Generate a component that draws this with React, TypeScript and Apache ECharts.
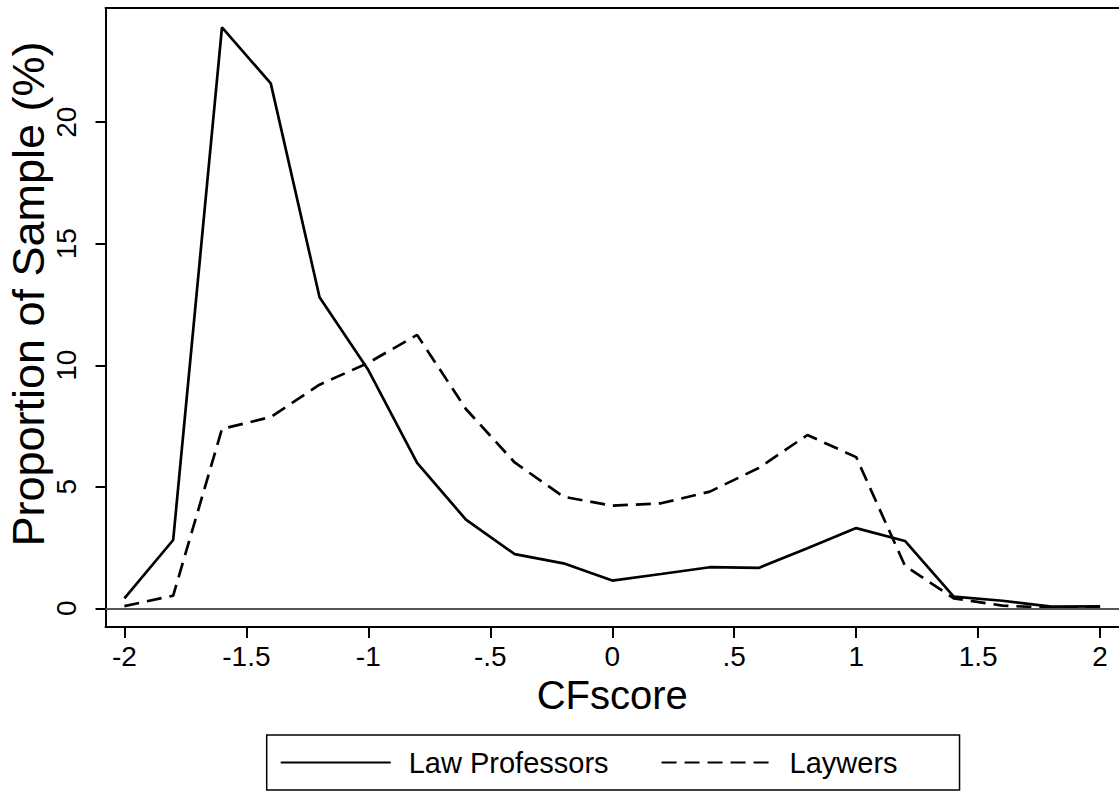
import React, { useEffect, useRef } from "react";
import * as echarts from "echarts";

const xValues = [-2, -1.8, -1.6, -1.4, -1.2, -1.0, -0.8, -0.6, -0.4, -0.2, 0, 0.2, 0.4, 0.6, 0.8, 1.0, 1.2, 1.4, 1.6, 1.8, 2.0];
const lawProfessors = [0.41, 2.81, 23.9, 21.6, 12.8, 9.8, 5.98, 3.65, 2.23, 1.85, 1.14, 1.41, 1.69, 1.66, 2.47, 3.3, 2.77, 0.48, 0.31, 0.07, 0.08];
const lawyers = [0.09, 0.52, 7.38, 7.87, 9.2, 10.1, 11.25, 8.2, 6.0, 4.59, 4.22, 4.32, 4.8, 5.77, 7.13, 6.22, 1.75, 0.41, 0.11, 0.02, 0.03];
const xTicks = [-2, -1.5, -1, -0.5, 0, 0.5, 1, 1.5, 2];
const yTicks = [0, 5, 10, 15, 20];
const seriesNames = ["Law Professors", "Laywers"];
const xTitle = "CFscore";
const yTitle = "Proportion of Sample (%)";

const FONT = '"Liberation Sans", Arial, Helvetica, sans-serif';

const fmtX = (v: number) => {
  if (v === 0) return "0";
  return String(v).replace(/^(-?)0\./, "$1.");
};

export default function App() {
  const ref = useRef<HTMLDivElement>(null);
  useEffect(() => {
    if (!ref.current) return;
    const chart = echarts.init(ref.current, null, { renderer: "svg" });
    const xMin = -2.0775, xMax = 2.0775;
    chart.setOption({
      animation: false,
      backgroundColor: "#fff",
      textStyle: { fontFamily: FONT },
      grid: { left: 105.5, top: 8, width: 1014.5, height: 619, containLabel: false },
      xAxis: [
        {
          type: "value",
          min: xMin,
          max: xMax,
          position: "bottom",
          splitLine: { show: false },
          axisLine: { show: true, onZero: false, lineStyle: { color: "#000", width: 2 } },
          axisTick: { show: true, length: 11, customValues: xTicks, lineStyle: { color: "#000", width: 2 } },
          axisLabel: {
            show: true,
            customValues: xTicks,
            formatter: (v: number) => fmtX(v),
            fontSize: 28,
            fontFamily: FONT,
            color: "#000",
            margin: 15,
          },
          name: xTitle,
          nameLocation: "middle",
          nameGap: 40,
          nameTextStyle: { fontSize: 40, fontFamily: FONT, color: "#000" },
        },
        {
          type: "value",
          min: xMin,
          max: xMax,
          position: "top",
          splitLine: { show: false },
          axisLine: { show: true, onZero: false, lineStyle: { color: "#000", width: 2 } },
          axisTick: { show: false },
          axisLabel: { show: false },
        },
      ],
      yAxis: {
        type: "value",
        min: -0.77,
        max: 24.7,
        splitLine: { show: false },
        axisLine: { show: true, onZero: false, lineStyle: { color: "#000", width: 2 } },
        axisTick: { show: true, length: 10, customValues: yTicks, lineStyle: { color: "#000", width: 2 } },
        axisLabel: {
          show: true,
          customValues: yTicks,
          rotate: 90,
          fontSize: 28,
          fontFamily: FONT,
          color: "#000",
          margin: 25,
        },
      },
      legend: {
        show: true,
        left: 266.7,
        top: 735,
        orient: "horizontal",
        padding: [13, 62, 13, 13],
        itemWidth: 110,
        itemHeight: 14,
        itemGap: 52,
        borderColor: "#000",
        borderWidth: 1.5,
        borderRadius: 0,
        itemStyle: { color: "transparent", borderColor: "transparent", borderWidth: 0, opacity: 0 },
        textStyle: { fontSize: 29, fontFamily: FONT, color: "#000", padding: [0, 0, 0, 13], lineHeight: 29 },
        data: seriesNames,
      },
      graphic: [
        {
          type: "text",
          x: 28,
          y: 294,
          rotation: Math.PI / 2,
          style: {
            text: yTitle,
            fontSize: 45,
            fontFamily: FONT,
            fill: "#000",
            textAlign: "center",
            textVerticalAlign: "middle",
          },
        },
      ],
      series: [
        {
          name: seriesNames[0],
          type: "line",
          xAxisIndex: 0,
          symbol: "none",
          showSymbol: false,
          data: xValues.map((x, i) => [x, lawProfessors[i]]),
          lineStyle: { color: "#000", width: 2.7, type: "solid" },
          itemStyle: { color: "#000" },
          markLine: {
            silent: true,
            symbol: "none",
            label: { show: false },
            lineStyle: { color: "#555", width: 2.2, type: "solid" },
            data: [{ yAxis: 0 }],
          },
          z: 3,
        },
        {
          name: seriesNames[1],
          type: "line",
          xAxisIndex: 0,
          symbol: "none",
          showSymbol: false,
          data: xValues.map((x, i) => [x, lawyers[i]]),
          lineStyle: { color: "#000", width: 2.7, type: [15, 8] },
          itemStyle: { color: "#000" },
          z: 3,
        },
      ],
    });
    return () => chart.dispose();
  }, []);
  return (
    <div
      ref={ref}
      style={{ position: "fixed", left: 0, top: 0, width: 1119, height: 792, background: "#fff" }}
    />
  );
}
